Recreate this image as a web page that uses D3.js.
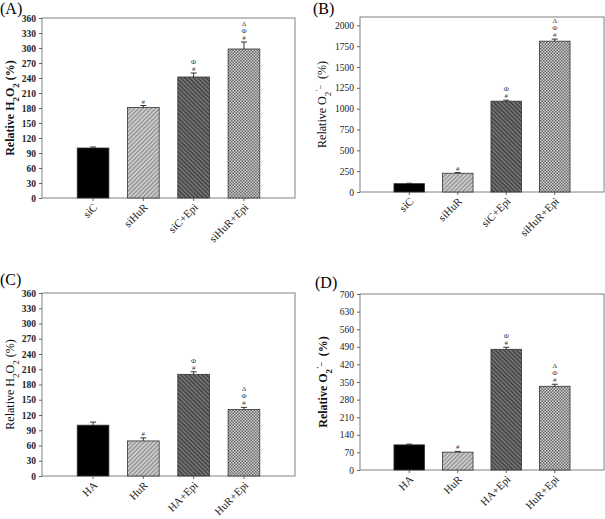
<!DOCTYPE html>
<html>
<head>
<meta charset="utf-8">
<script src="https://cdn.jsdelivr.net/npm/d3@7"></script>
<style>
  html, body { margin: 0; padding: 0; background: #fff; }
  svg { display: block; font-family: "Liberation Serif", "Times New Roman", serif; }
</style>
</head>
<body>
<svg id="chart" width="605" height="519"></svg>
<script>
// categories
const siGroups = ["siC", "siHuR", "siC+Epi", "siHuR+Epi"];
const haGroups = ["HA", "HuR", "HA+Epi", "HuR+Epi"];

// (A) relative H2O2, siRNA
const h2o2Si = [100, 181, 242, 298];
const h2o2SiErr = [2, 4, 8, 14];
// (B) relative O2-, siRNA
const o2Si = [100, 225, 1090, 1810];
const o2SiErr = [5, 8, 12, 25];
// (C) relative H2O2, overexpression
const h2o2Ha = [100, 69, 200, 131];
const h2o2HaErr = [6, 6, 5, 4];
// (D) relative O2-, overexpression
const o2Ha = [100, 71, 480, 333];
const o2HaErr = [3, 3, 8, 8];

// significance marks above each bar (bottom to top)
const sigMarks = [[], ["#"], ["#", "\u03A6"], ["#", "\u03A6", "\u0394"]];

// tick labels
const h2o2Ticks = d3.range(0, 361, 30);
const o2SiTicks = d3.range(0, 2001, 250);
const o2HaTicks = d3.range(0, 701, 70);

const svg = d3.select("#chart");

// bar fills
const defs = svg.append("defs");
const light = defs.append("pattern").attr("id", "hatchLight")
  .attr("patternUnits", "userSpaceOnUse").attr("width", 3).attr("height", 3)
  .attr("patternTransform", "rotate(45)");
light.append("rect").attr("width", 3).attr("height", 3).attr("fill", "#d4d4d4");
light.append("rect").attr("width", 1.3).attr("height", 3).attr("fill", "#8a8a8a");

const dark = defs.append("pattern").attr("id", "hatchDark")
  .attr("patternUnits", "userSpaceOnUse").attr("width", 3).attr("height", 3)
  .attr("patternTransform", "rotate(-45)");
dark.append("rect").attr("width", 3).attr("height", 3).attr("fill", "#7c7c7c");
dark.append("rect").attr("width", 1.4).attr("height", 3).attr("fill", "#3a3a3a");

const checker = defs.append("pattern").attr("id", "checker")
  .attr("patternUnits", "userSpaceOnUse").attr("width", 3).attr("height", 3);
checker.append("rect").attr("width", 3).attr("height", 3).attr("fill", "#d0d0d0");
checker.append("rect").attr("width", 1.5).attr("height", 1.5).attr("fill", "#666");
checker.append("rect").attr("x", 1.5).attr("y", 1.5).attr("width", 1.5).attr("height", 1.5).attr("fill", "#666");

const fills = ["#000", "url(#hatchLight)", "url(#hatchDark)", "url(#checker)"];

function drawPanel(p) {
  const x = d3.scaleBand().domain(p.groups).range([p.left, p.right])
    .paddingInner(0.37).paddingOuter(0.7);
  const y = d3.scaleLinear().domain([0, p.max]).range([p.bottom, p.top]);
  const g = svg.append("g");
  const cx = i => x(p.groups[i]) + x.bandwidth() / 2;

  // panel letter
  g.append("text").attr("x", p.letterX).attr("y", p.letterY)
    .attr("font-size", 16).text(p.letter);

  // frame
  g.append("rect")
    .attr("x", p.left).attr("y", p.top)
    .attr("width", p.right - p.left).attr("height", p.bottom - p.top)
    .attr("fill", "none").attr("stroke", "#808080").attr("stroke-width", 1);

  // y axis
  const ya = g.append("g").attr("transform", `translate(${p.left},0)`)
    .call(d3.axisLeft(y).tickValues(p.ticks).tickFormat(d3.format("d"))
      .tickSize(3).tickPadding(3));
  ya.select(".domain").remove();
  ya.selectAll("line").attr("stroke", "#666");
  ya.selectAll("text").attr("font-family", "Liberation Serif")
    .attr("font-size", 9.5).attr("font-weight", p.tickBold ? "bold" : "normal")
    .attr("fill", "#222");

  // x axis, labels slanted 45 degrees
  const xa = g.append("g").attr("transform", `translate(0,${p.bottom})`)
    .call(d3.axisBottom(x).tickSize(3));
  xa.select(".domain").remove();
  xa.selectAll("line").attr("stroke", "#666");
  xa.selectAll("text")
    .attr("font-family", "Liberation Serif")
    .attr("font-size", 11).attr("fill", "#222")
    .attr("x", 0).attr("y", 0).attr("dy", 0)
    .attr("text-anchor", "end")
    .attr("transform", "translate(5,10) rotate(-45)");

  // bars
  g.selectAll(".bar").data(p.values).join("rect")
    .attr("class", "bar")
    .attr("x", (d, i) => x(p.groups[i]))
    .attr("y", d => y(d))
    .attr("width", x.bandwidth())
    .attr("height", d => p.bottom - y(d))
    .attr("fill", (d, i) => fills[i])
    .attr("stroke", "#333").attr("stroke-width", 0.8);

  // error bars
  g.selectAll(".err").data(p.values).join("line")
    .attr("class", "err")
    .attr("x1", (d, i) => cx(i)).attr("x2", (d, i) => cx(i))
    .attr("y1", d => y(d)).attr("y2", (d, i) => y(d + p.errors[i]))
    .attr("stroke", "#333").attr("stroke-width", 1);
  g.selectAll(".cap").data(p.values).join("line")
    .attr("class", "cap")
    .attr("x1", (d, i) => cx(i) - 3).attr("x2", (d, i) => cx(i) + 3)
    .attr("y1", (d, i) => y(d + p.errors[i])).attr("y2", (d, i) => y(d + p.errors[i]))
    .attr("stroke", "#333").attr("stroke-width", 1);

  // significance marks
  p.values.forEach((d, i) => {
    sigMarks[i].forEach((m, k) => {
      g.append("text")
        .attr("x", cx(i))
        .attr("y", y(d + p.errors[i]) - 2 - k * 7)
        .attr("text-anchor", "middle")
        .attr("font-size", 7).attr("fill", "#333")
        .text(m);
    });
  });

  // y title
  const t = g.append("text")
    .attr("transform", `translate(${p.titleX},${(p.top + p.bottom) / 2}) rotate(-90)`)
    .attr("text-anchor", "middle")
    .attr("font-size", 12)
    .attr("font-weight", p.titleBold ? "bold" : "normal")
    .attr("fill", "#111");
  t.append("tspan").text("Relative ");
  if (p.species === "h2o2") {
    t.append("tspan").text("H");
    t.append("tspan").attr("baseline-shift", "sub").attr("font-size", 9).text("2");
    t.append("tspan").text("O");
    t.append("tspan").attr("baseline-shift", "sub").attr("font-size", 9).text("2");
    t.append("tspan").text(" (%)");
  } else {
    t.append("tspan").text("O");
    t.append("tspan").attr("baseline-shift", "sub").attr("font-size", 9).text("2");
    t.append("tspan").attr("baseline-shift", "super").attr("font-size", 8).text("\u02D9\u2013");
    t.append("tspan").attr("dx", 6).text("(%)");
  }
}

drawPanel({ letter: "(A)", letterX: 0, letterY: 14, groups: siGroups, values: h2o2Si, errors: h2o2SiErr,
  max: 360, ticks: h2o2Ticks, left: 42, right: 295, top: 18, bottom: 198,
  titleX: 14, titleBold: true, tickBold: true, species: "h2o2" });
drawPanel({ letter: "(B)", letterX: 313, letterY: 14, groups: siGroups, values: o2Si, errors: o2SiErr,
  max: 2100, ticks: o2SiTicks, left: 360, right: 604, top: 17, bottom: 192,
  titleX: 326, titleBold: false, tickBold: false, species: "o2" });
drawPanel({ letter: "(C)", letterX: 0, letterY: 285, groups: haGroups, values: h2o2Ha, errors: h2o2HaErr,
  max: 360, ticks: h2o2Ticks, left: 42, right: 295, top: 293, bottom: 476,
  titleX: 14, titleBold: false, tickBold: true, species: "h2o2" });
drawPanel({ letter: "(D)", letterX: 315, letterY: 288, groups: haGroups, values: o2Ha, errors: o2HaErr,
  max: 700, ticks: o2HaTicks, left: 360, right: 604, top: 294, bottom: 470,
  titleX: 327, titleBold: true, tickBold: false, species: "o2" });
</script>
</body>
</html>
